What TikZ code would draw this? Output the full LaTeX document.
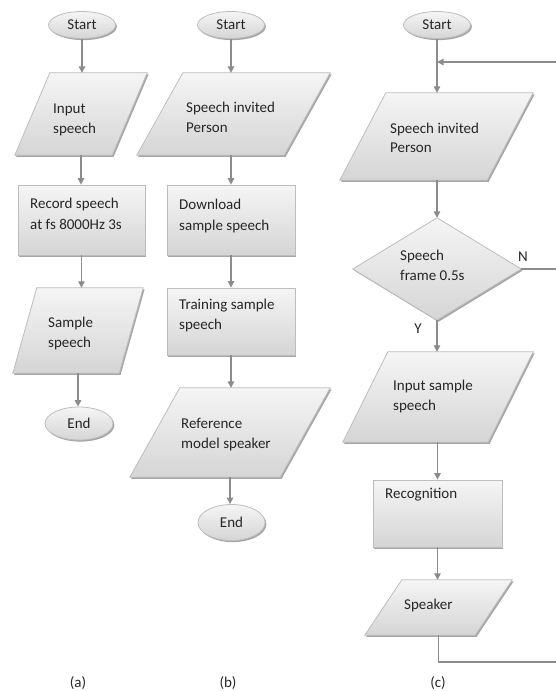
\documentclass[tikz,border=0pt]{standalone}
\usepackage{fontspec}
\setmainfont{Carlito}
\usetikzlibrary{arrows.meta,shadows,shapes.geometric}
\definecolor{linegray}{HTML}{8C8C8C}
\definecolor{edgegray}{HTML}{BDBDBD}
\definecolor{filltop}{HTML}{F5F5F5}
\definecolor{fillbot}{HTML}{D5D5D5}
\definecolor{txtcol}{HTML}{262626}
\tikzset{
  shapestyle/.style={draw=edgegray, line width=0.8pt, top color=filltop, bottom color=fillbot,
    drop shadow={shadow xshift=1.4pt, shadow yshift=-1.6pt, fill=black, opacity=0.35}},
  frame/.style={draw=none, fill=none, inner sep=0pt, shape=rectangle},
  rbox/.style={shapestyle, inner sep=0pt, shape=rectangle},
  term/.style={shapestyle, ellipse, inner sep=0pt, minimum width=67pt, minimum height=27pt,
    font=\fontsize{15}{18}\selectfont, text=txtcol},
  txt/.style={inner sep=0pt, anchor=base west, font=\fontsize{15}{18}\selectfont, text=txtcol},
  lbl/.style={inner sep=0pt, anchor=base, font=\fontsize{15}{18}\selectfont, text=txtcol},
  arr/.style={draw=linegray, line width=1.3pt, -{Triangle[length=6.5pt,width=6.5pt]}},
  plain/.style={draw=linegray, line width=1.3pt}
}
\newcommand\paradraw[2]{\path[shapestyle] ([xshift=#2]#1.north west) -- (#1.north east) -- ([xshift=-#2]#1.south east) -- (#1.south west) -- cycle;}
\begin{document}
\begin{tikzpicture}[x=1pt,y=-1pt]
\useasboundingbox (0,0) rectangle (556,691);

% ---------- column (a)
\node[term] (s1) at (82,25) {Start};
\node[frame, minimum width=132pt, minimum height=82pt] (p11) at (81,114) {};
\paradraw{p11}{35pt}
\node[rbox, minimum width=127pt, minimum height=70pt] (r11) at (81.5,220) {};
\node[frame, minimum width=130pt, minimum height=85pt] (p12) at (78,330.5) {};
\paradraw{p12}{24pt}
\node[term, minimum width=68pt, minimum height=33pt] (e1) at (79,423.5) {End};

\node[txt] (t11a) at (53,113) {Input};
\node[txt] (t11b) at (53,133) {speech};
\node[txt] (t12a) at (30,208) {Record speech};
\node[txt] (t12b) at (30,229) {at fs 8000Hz 3s};
\node[txt] (t13a) at (48,327) {Sample};
\node[txt] (t13b) at (48,347) {speech};

\draw[arr] (s1.south) -- (s1.south |- p11.north);
\draw[arr] (p11.south) -- (p11.south |- r11.north);
\draw[arr] (r11.south) -- (r11.south |- p12.north);
\draw[arr] (p12.south) -- (p12.south |- e1.north);

% ---------- column (b)
\node[term] (s2) at (231,25) {Start};
\node[frame, minimum width=193pt, minimum height=82pt] (p21) at (233.5,114) {};
\paradraw{p21}{46pt}
\node[rbox, minimum width=128pt, minimum height=70pt] (r21) at (231,220) {};
\node[rbox, minimum width=128pt, minimum height=67pt] (r22) at (231,321.5) {};
\node[frame, minimum width=200pt, minimum height=89pt] (p22) at (230,432.5) {};
\paradraw{p22}{50pt}
\node[term, minimum width=67pt, minimum height=36pt] (e2) at (231.5,522.5) {End};

\node[txt] (t21a) at (186,112) {Speech invited};
\node[txt] (t21b) at (186,132) {Person};
\node[txt] (t22a) at (179,209) {Download};
\node[txt] (t22b) at (179,230) {sample speech};
\node[txt] (t23a) at (179,309) {Training sample};
\node[txt] (t23b) at (179,329) {speech};
\node[txt] (t24a) at (181,428) {Reference};
\node[txt] (t24b) at (181,448) {model speaker};

\draw[arr] (s2.south) -- (s2.south |- p21.north);
\draw[arr] (r21.north |- p21.south) -- (r21.north);
\draw[arr] (r21.south) -- (r21.south |- r22.north);
\draw[arr] (r22.south) -- (r22.south |- p22.north);
\draw[arr] (p22.south) -- (p22.south |- e2.north);

% ---------- column (c)
\node[term] (s3) at (437,25) {Start};
\coordinate (j3) at (437,62);
\coordinate (rt) at (556,62);
\node[frame, minimum width=193pt, minimum height=87pt] (p31) at (436.5,136.5) {};
\paradraw{p31}{46pt}
\node[frame, minimum width=168pt, minimum height=102pt] (d3) at (437,269) {};
\path[shapestyle] (d3.north) -- (d3.east) -- (d3.south) -- (d3.west) -- cycle;
\coordinate (n3) at (556,269);
\node[frame, minimum width=190pt, minimum height=90pt] (p32) at (438,397) {};
\paradraw{p32}{45pt}
\node[rbox, minimum width=129pt, minimum height=67pt] (r31) at (437.5,513.5) {};
\node[frame, minimum width=147pt, minimum height=55pt] (p33) at (438.5,607.5) {};
\paradraw{p33}{37pt}
\coordinate (b3) at (556,662);

\node[txt] (t31a) at (390,133) {Speech invited};
\node[txt] (t31b) at (390,152) {Person};
\node[txt] (t32a) at (400,260) {Speech};
\node[txt] (t32b) at (400,280) {frame 0.5s};
\node[txt] (t33a) at (393,390) {Input sample};
\node[txt] (t33b) at (393,410) {speech};
\node[txt] (t34) at (385,498) {Recognition};
\node[txt] (t35) at (404,609) {Speaker};
\node[lbl] (nlab) at (523,261) {N};
\node[lbl] (ylab) at (418,333) {Y};

\draw[arr] (s3.south) -- (s3.south |- p31.north);
\draw[arr] (rt) -- (j3);
\draw[arr] (d3.north |- p31.south) -- (d3.north);
\draw[plain] (d3.east) -- (n3);
\draw[arr] (d3.south) -- (d3.south |- p32.north);
\draw[arr] (r31.north |- p32.south) -- (r31.north);
\draw[arr] (r31.south) -- (r31.south |- p33.north);
\draw[plain] (p33.south) |- (b3);

% ---------- captions
\node[lbl] (ca) at (78,687) {(a)};
\node[lbl] (cb) at (228,687) {(b)};
\node[lbl] (cc) at (438,687) {(c)};
\end{tikzpicture}
\end{document}
